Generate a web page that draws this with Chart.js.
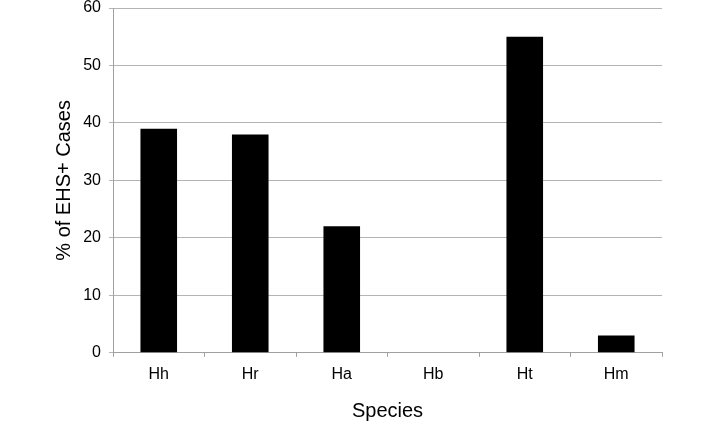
<!DOCTYPE html>
<html><head><meta charset="utf-8">
<script src="https://cdn.jsdelivr.net/npm/chart.js@4/dist/chart.umd.min.js"></script>
<style>html,body{margin:0;padding:0;background:#fff}#wrap{width:716px;height:427px}</style>
</head><body><div id="wrap"><canvas id="c" width="716" height="427"></canvas></div>
<script>
const categories = ["Hh", "Hr", "Ha", "Hb", "Ht", "Hm"];
const values = [39, 38, 22, 0, 55, 3];
const yTicks = [0, 10, 20, 30, 40, 50, 60];

new Chart(document.getElementById('c'), {
  type: 'bar',
  data: { labels: categories, datasets: [{ data: values, backgroundColor: '#000', borderWidth: 0, categoryPercentage: 1, barPercentage: 0.4 }] },
  options: {
    responsive: false, animation: false,
    layout: { padding: { left: 0, right: 54, top: 0, bottom: 4 } },
    plugins: { legend: { display: false }, tooltip: { enabled: false } },
    scales: {
      x: {
        grid: { display: true, drawOnChartArea: false, drawTicks: true, tickLength: 4, color: '#a0a0a0', offset: true },
        border: { color: '#a0a0a0' },
        ticks: { color: '#000', font: { family: 'Liberation Sans, Arial', size: 16 }, padding: 8 },
        title: { display: true, text: 'Species', color: '#000', font: { family: 'Liberation Sans, Arial', size: 20 }, padding: { top: 7, bottom: 0 } }
      },
      y: {
        min: 0, max: 60,
        afterBuildTicks: (s) => { s.ticks = yTicks.map(v => ({ value: v })); },
        afterFit: (s) => { s.width = 113; s.paddingTop = 8; s.paddingBottom = 0; },
        grid: { color: '#b4b4b4', tickLength: 4, lineWidth: 1 },
        border: { color: '#a0a0a0' },
        ticks: { color: '#000', font: { family: 'Liberation Sans, Arial', size: 16 }, padding: 8 },
        title: { display: true, text: '% of EHS+ Cases', color: '#000', font: { family: 'Liberation Sans, Arial', size: 20 }, padding: { top: 52, bottom: 0 } }
      }
    }
  }
});
</script></body></html>
